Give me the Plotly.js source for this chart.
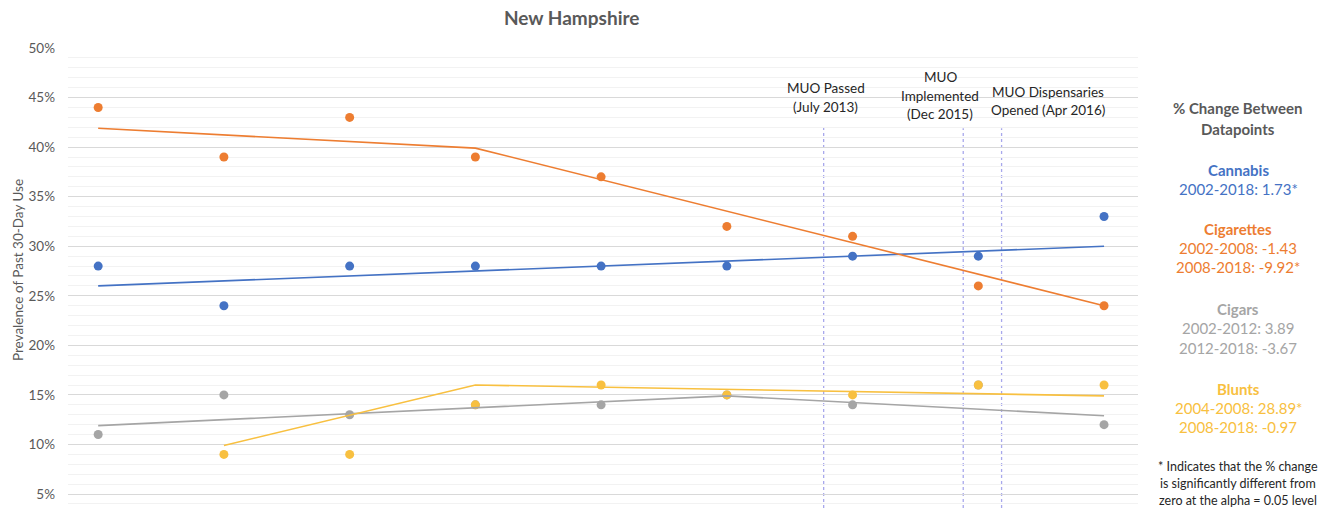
<!DOCTYPE html>
<html>
<head>
<meta charset="utf-8">
<script src="https://cdn.plot.ly/plotly-3.0.1.min.js"></script>
<style>html,body{margin:0;padding:0;background:#fff;}#chart{width:1338px;height:508px;}</style>
</head>
<body>
<div id="chart"></div>
<script>
// ---- data ----
const years = [2002, 2004, 2006, 2008, 2010, 2012, 2014, 2016, 2018];
const cannabis   = [28, 24, 28, 28, 28, 28, 29, 29, 33];
const cigarettes = [44, 39, 43, 39, 37, 32, 31, 26, 24];
const cigars     = [11, 15, 13, 14, 14, 15, 14, 16, 12];
const blunts     = [null, 9, 9, 14, 16, 15, 15, 16, 16];

const cannabisTrendX = [2002, 2018];
const cannabisTrendY = [26, 30];
const cigTrendX = [2002, 2008, 2018];
const cigTrendY = [41.9, 39.9, 24];
const cigarTrendX = [2002, 2012, 2018];
const cigarTrendY = [11.9, 14.9, 12.9];
const bluntTrendX = [2004, 2008, 2018];
const bluntTrendY = [9.9, 16, 14.9];

const yTickVals = [5, 10, 15, 20, 25, 30, 35, 40, 45, 50];
const yTickText = ['5%', '10%', '15%', '20%', '25%', '30%', '35%', '40%', '45%', '50%'];

const eventX = [2013.54, 2015.76, 2016.37];
const eventLabels = [["MUO Passed", "(July 2013)"], ["MUO", "Implemented", "(Dec 2015)"], ["MUO Dispensaries", "Opened (Apr 2016)"]];

const colors = {cannabis: '#4472C4', cig: '#ED7D31', cigar: '#A5A5A5', blunt: '#F8C040'};
const FONT = 'Lato, "Open Sans", sans-serif';

// layout geometry helpers
const L = 68, W = 1070, T = 48, H = 460;
const px = x => (x - L) / W;
const py = y => (T + H - y) / H;

function markerTrace(y, c) {
  return {x: years, y: y, mode: 'markers', type: 'scatter', marker: {color: c, size: 9}, hoverinfo: 'skip', showlegend: false};
}
function lineTrace(x, y, c) {
  return {x: x, y: y, mode: 'lines', type: 'scatter', line: {color: c, width: 1.6}, hoverinfo: 'skip', showlegend: false};
}

const traces = [
  markerTrace(cigars, colors.cigar),
  markerTrace(cannabis, colors.cannabis),
  markerTrace(cigarettes, colors.cig),
  markerTrace(blunts, colors.blunt),
  lineTrace(cannabisTrendX, cannabisTrendY, colors.cannabis),
  lineTrace(cigTrendX, cigTrendY, colors.cig),
  lineTrace(cigarTrendX, cigarTrendY, colors.cigar),
  lineTrace(bluntTrendX, bluntTrendY, colors.blunt)
];

const shapes = eventX.map((ex, i) => ({
  type: 'line', xref: 'x', yref: 'y', x0: ex, x1: ex, y0: 3.59, y1: i === 0 ? 42.2 : 41.9,
  line: {color: '#A8A8EC', width: 1.3, dash: '3px,3px'}, layer: 'below'
}));

const annotations = [];
function txt(x, y, t, opts) {
  annotations.push(Object.assign({xref: 'paper', yref: 'paper', x: px(x), y: py(y), text: t, showarrow: false,
    xanchor: 'center', yanchor: 'middle', font: {family: FONT, size: 13, color: '#262626'}}, opts || {}));
}
// title
txt(571, 18, '<b>New Hampshire</b>', {font: {family: FONT, size: 19, color: '#595959'}});
// y axis title
txt(18, 270, 'Prevalence of Past 30-Day Use', {textangle: -90, font: {family: FONT, size: 13.5, color: '#595959'}});
// event labels
const evCenters = [826, 940, 1048];
const evLineYs = [[88, 107], [77, 96, 114], [92, 110]];
eventLabels.forEach((lines, i) => lines.forEach((t, j) => txt(evCenters[i], evLineYs[i][j], t, {font: {family: FONT, size: 13.5, color: '#262626'}})));
// right panel
const RX = 1238;
const bold = (t, c, y) => txt(RX, y, '<b>' + t + '</b>', {font: {family: FONT, size: 15, color: c}});
const norm = (t, c, y) => txt(RX, y, t, {font: {family: FONT, size: 15, color: c}});
bold('% Change Between', '#595959', 108);
bold('Datapoints', '#595959', 129);
bold('Cannabis', colors.cannabis, 170);
norm('2002-2018: 1.73*', colors.cannabis, 189);
bold('Cigarettes', colors.cig, 229);
norm('2002-2008: -1.43', colors.cig, 248);
norm('2008-2018: -9.92*', colors.cig, 267);
bold('Cigars', colors.cigar, 309);
norm('2002-2012: 3.89', colors.cigar, 328);
norm('2012-2018: -3.67', colors.cigar, 348);
bold('Blunts', colors.blunt, 389);
norm('2004-2008: 28.89*', colors.blunt, 408);
norm('2008-2018: -0.97', colors.blunt, 427);
const fn = (t, y) => txt(RX, y, t, {font: {family: FONT, size: 12.5, color: '#262626'}});
fn('* Indicates that the % change', 466);
fn('is significantly different from', 483);
fn('zero at the alpha = 0.05 level', 500);

const layout = {
  width: 1338, height: 508,
  margin: {l: L, r: 1338 - L - W, t: T, b: 0, pad: 0},
  paper_bgcolor: '#ffffff', plot_bgcolor: '#ffffff',
  showlegend: false,
  xaxis: {range: [2001.52, 2018.54], showgrid: false, zeroline: false, showticklabels: false, showline: false, ticks: ''},
  yaxis: {range: [3.59, 50], tickmode: 'array', tickvals: yTickVals, ticktext: yTickText,
    showgrid: true, gridcolor: '#D9D9D9', gridwidth: 1, zeroline: false, showline: false, ticks: '',
    ticklabelstandoff: 12,
    tickfont: {family: FONT, size: 13.5, color: '#595959'},
    minor: {dtick: 1, tick0: 0, showgrid: true, gridcolor: '#F2F2F2', gridwidth: 1}},
  shapes: shapes,
  annotations: annotations
};

Plotly.newPlot('chart', traces, layout, {staticPlot: true, displayModeBar: false});
</script>
</body>
</html>
